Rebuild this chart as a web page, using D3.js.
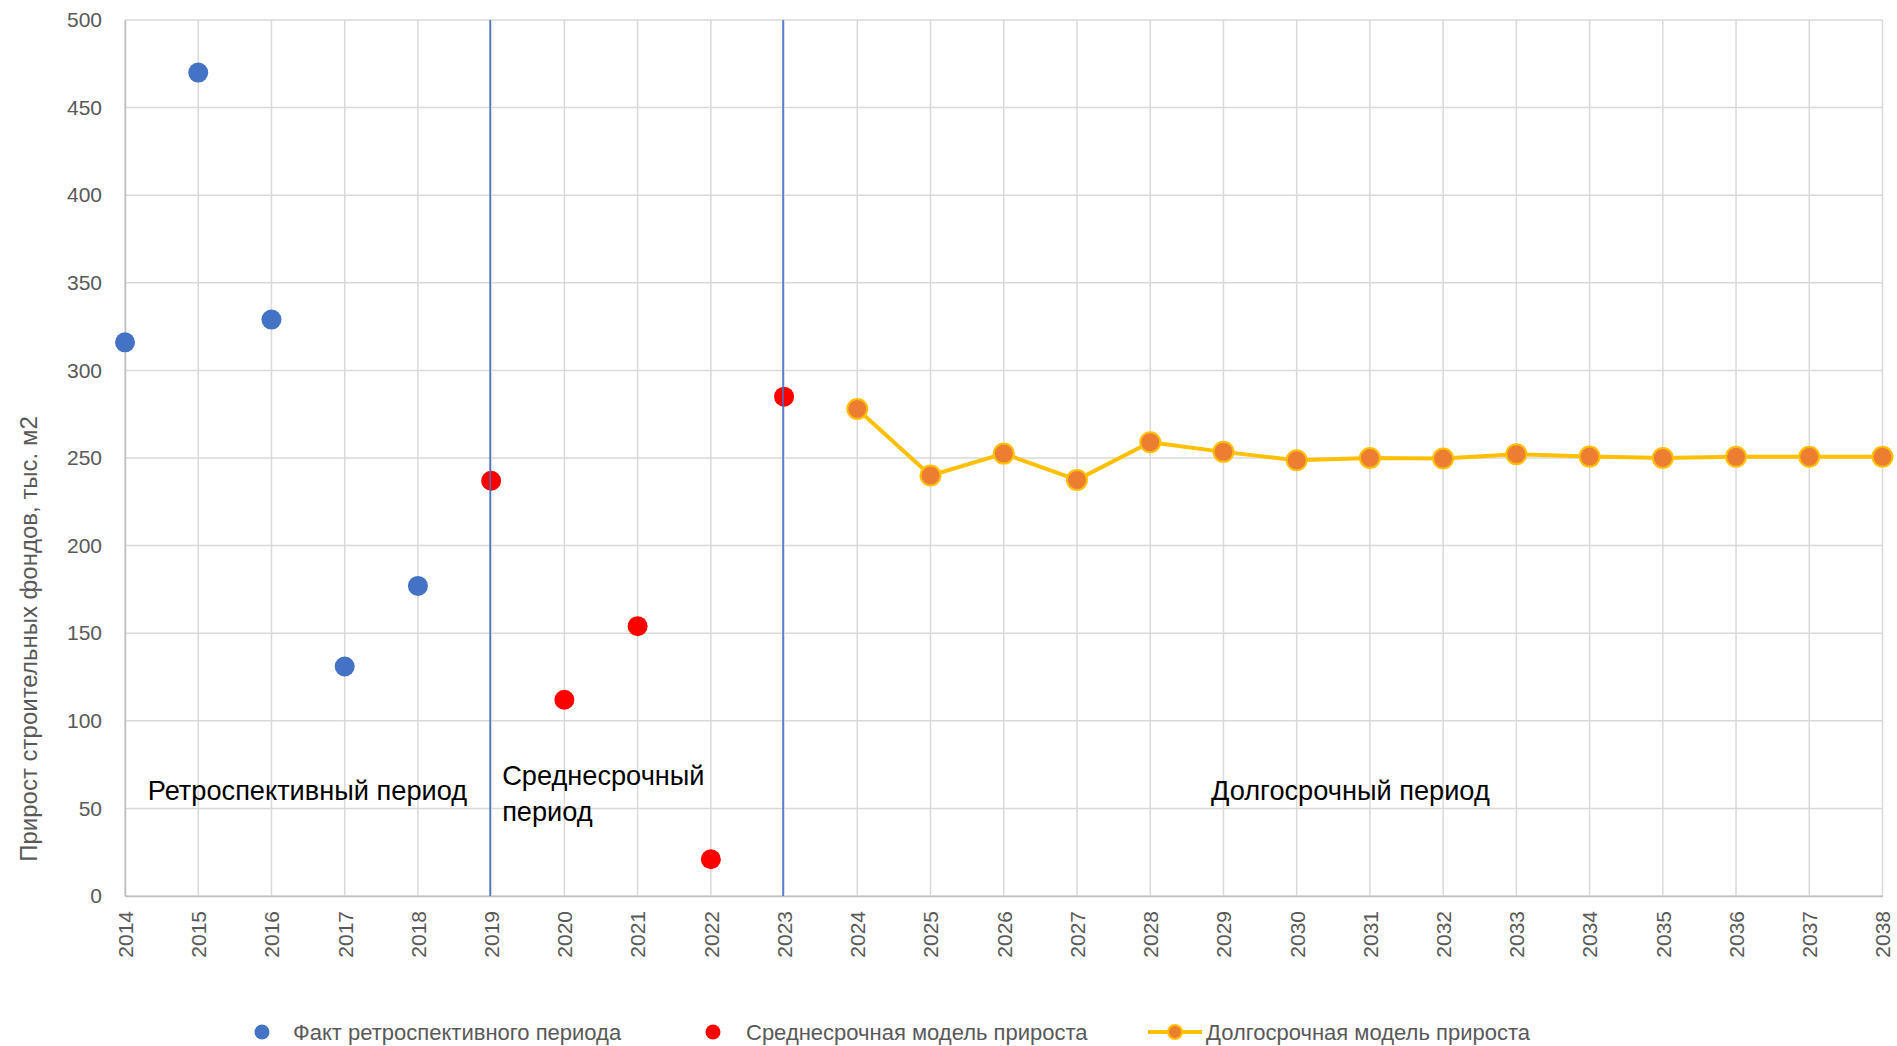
<!DOCTYPE html>
<html><head><meta charset="utf-8">
<script src="https://cdn.jsdelivr.net/npm/d3@7"></script>
<style>body{margin:0;background:#fff}svg{display:block}</style>
</head><body>
<svg id="c" width="1897" height="1046"></svg>
<script>
const years = d3.range(2014, 2039);
const factYears = [2014, 2015, 2016, 2017, 2018];
const factValues = [316, 470, 329, 131, 177];
const midYears = [2019, 2020, 2021, 2022, 2023];
const midValues = [237, 112, 154, 21, 285];
const longYears = [2024,2025,2026,2027,2028,2029,2030,2031,2032,2033,2034,2035,2036,2037,2038];
const longValues = [278,240,252.5,237.5,259,253.5,248.7,250,249.7,252.2,250.8,250,250.7,250.7,250.7];
const yTicks = [0,50,100,150,200,250,300,350,400,450,500];
const dividerYears = [2019, 2023];
const periodLabels = [
  {lines:["Ретроспективный период"], year:2014.31},
  {lines:["Среднесрочный","период"], year:2019.15},
  {lines:["Долгосрочный период"], year:2028.83}
];
const legendItems = ["Факт ретроспективного периода","Среднесрочная модель прироста","Долгосрочная модель прироста"];
const yTitle = "Прирост строительных фондов, тыс. м2";

const svg = d3.select("#c");
const F = "'Liberation Sans', Arial, sans-serif";
const x = d3.scaleLinear().domain([2014, 2038]).range([125, 1882.5]);
const y = d3.scaleLinear().domain([0, 500]).range([896, 20]);

// grid
svg.append("g").selectAll("line").data(yTicks).join("line")
  .attr("x1", x(2014)).attr("x2", x(2038)).attr("y1", d=>y(d)).attr("y2", d=>y(d))
  .attr("stroke", "#d9d9d9").attr("stroke-width", 1.5);
svg.append("g").selectAll("line").data(years).join("line")
  .attr("x1", d=>x(d)).attr("x2", d=>x(d)).attr("y1", y(0)).attr("y2", y(500))
  .attr("stroke", "#d9d9d9").attr("stroke-width", 1.5);

// axes
const yAxis = d3.axisLeft(y).tickValues(yTicks).tickSize(0).tickPadding(23);
const gy = svg.append("g").attr("transform", `translate(${x(2014)},0)`).call(yAxis);
gy.select(".domain").attr("stroke", "#bfbfbf").attr("stroke-width", 1.5);
gy.selectAll("text").attr("font-family", F).attr("font-size", 21).attr("fill", "#595959");

const xAxis = d3.axisBottom(x).tickValues(years).tickFormat(d3.format("d")).tickSize(0);
const gx = svg.append("g").attr("transform", `translate(0,${y(0)})`).call(xAxis);
gx.select(".domain").attr("stroke", "#bfbfbf").attr("stroke-width", 1.5);
gx.selectAll("text").attr("font-family", F).attr("font-size", 21).attr("fill", "#595959")
  .attr("transform", "rotate(-90)").attr("text-anchor", "end")
  .attr("x", -15).attr("y", 0).attr("dy", "0.35em");

// y title
svg.append("text").attr("transform", `translate(37,639) rotate(-90)`)
  .attr("text-anchor", "middle").attr("font-family", F).attr("font-size", 24)
  .attr("fill", "#595959").text(yTitle);

// period labels
periodLabels.forEach((p, i) => {
  const t = svg.append("text").attr("font-family", F).attr("font-size", 27.2).attr("fill", "#000");
  p.lines.forEach((l, j) => {
    t.append("tspan").attr("x", x(p.year)).attr("y", (i===1 ? 785 : 800) + j*36).text(l);
  });
});

// long-term line
const line = d3.line().x((d,i)=>x(longYears[i])).y(d=>y(d));
svg.append("path").datum(longValues).attr("d", line).attr("fill", "none")
  .attr("stroke", "#FFC000").attr("stroke-width", 4).attr("stroke-linejoin", "round");
svg.append("g").selectAll("circle").data(longValues).join("circle")
  .attr("cx", (d,i)=>x(longYears[i])).attr("cy", d=>y(d)).attr("r", 10)
  .attr("fill", "#ED7D31").attr("stroke", "#FFC000").attr("stroke-width", 2);

svg.append("g").selectAll("circle").data(factValues).join("circle")
  .attr("cx", (d,i)=>x(factYears[i])).attr("cy", d=>y(d)).attr("r", 10).attr("fill", "#4472C4");
svg.append("g").selectAll("circle").data(midValues).join("circle")
  .attr("cx", (d,i)=>x(midYears[i])).attr("cy", d=>y(d)).attr("r", 10).attr("fill", "#FF0000");

// divider lines
svg.append("g").selectAll("line").data(dividerYears).join("line")
  .attr("x1", d=>x(d)-1).attr("x2", d=>x(d)-1).attr("y1", y(0)).attr("y2", y(500))
  .attr("stroke", "#4472C4").attr("stroke-width", 1.6);

// legend
const ly = 1032;
const lg = svg.append("g");
lg.append("circle").attr("cx", 262).attr("cy", ly).attr("r", 7.5).attr("fill", "#4472C4");
lg.append("circle").attr("cx", 713).attr("cy", ly).attr("r", 7.5).attr("fill", "#FF0000");
lg.append("line").attr("x1", 1148).attr("x2", 1202).attr("y1", ly).attr("y2", ly)
  .attr("stroke", "#FFC000").attr("stroke-width", 4);
lg.append("circle").attr("cx", 1175).attr("cy", ly).attr("r", 7).attr("fill", "#ED7D31")
  .attr("stroke", "#FFC000").attr("stroke-width", 2);
const lx = [293, 746, 1206];
legendItems.forEach((t, i) => {
  lg.append("text").attr("x", lx[i]).attr("y", ly).attr("dy", "0.35em")
    .attr("font-family", F).attr("font-size", 22).attr("fill", "#595959").text(t);
});
</script>
</body></html>
